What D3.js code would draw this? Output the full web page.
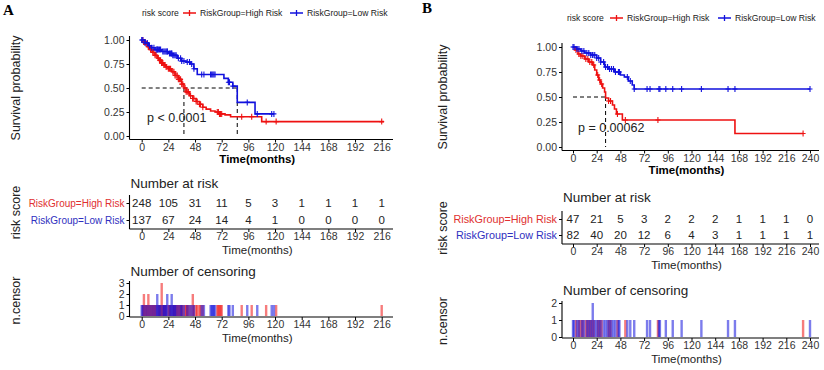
<!DOCTYPE html>
<html>
<head>
<meta charset="utf-8">
<script src="https://cdn.jsdelivr.net/npm/d3@7"></script>
<style>
  body { margin: 0; background: #fff; }
  svg, text { font-family: Arial, "Liberation Sans", Helvetica, sans-serif; }
</style>
</head>
<body>
<svg id="chart" width="824" height="370"></svg>
<script>
// ---- data ----
const groups = ['RiskGroup=High Risk', 'RiskGroup=Low Risk'];
const survTicks = [0, 0.25, 0.5, 0.75, 1];

// panel A
const timeTicksA = [0, 24, 48, 72, 96, 120, 144, 168, 192, 216];
const highStepsA = [[0, 1], [2, 0.98], [4, 0.96], [6, 0.93], [8, 0.9], [10, 0.87], [12, 0.84], [14, 0.81],
  [16, 0.79], [18, 0.76], [20, 0.74], [22, 0.72], [24, 0.7], [27, 0.67], [30, 0.63], [33, 0.59], [36, 0.54],
  [38, 0.5], [40, 0.46], [43, 0.42], [46, 0.39], [49, 0.36], [52, 0.33], [55, 0.3], [58, 0.28], [62, 0.26],
  [66, 0.25], [70, 0.23], [75, 0.22], [80, 0.2], [108, 0.15]];
const lowStepsA = [[0, 1], [3, 0.97], [6, 0.94], [9, 0.92], [12, 0.9], [18, 0.88], [24, 0.86], [28, 0.84],
  [32, 0.81], [36, 0.78], [40, 0.77], [44, 0.75], [47, 0.7], [50, 0.64], [74, 0.6], [78, 0.56], [82, 0.52],
  [86, 0.35], [102, 0.23]];
const highEndA = 218;
const lowEndA = 119;
const highCensorA = [1, 2, 2, 3, 4, 5, 6, 6, 7, 8, 9, 10, 11, 12, 13, 15, 16, 17, 18, 18, 18, 19, 20, 21, 22, 24,
  25, 26, 28, 29, 30, 31, 32, 33, 34, 35, 36, 37, 39, 40, 41, 42, 44, 46, 46, 47, 49, 50, 52, 53, 55, 68, 69,
  70, 71, 72, 90, 99, 112, 121, 216];
const lowCensorA = [0, 1, 3, 5, 7, 9, 11, 13, 14, 14, 15, 16, 17, 19, 20, 21, 22, 23, 23, 25, 26, 27, 27, 28, 29,
  30, 31, 33, 35, 36, 38, 41, 43, 45, 47, 54, 56, 62, 63, 64, 65, 66, 78, 79, 82, 95, 104, 117, 119];
const highRiskA = [248, 105, 31, 11, 5, 3, 1, 1, 1, 1];
const lowRiskA = [137, 67, 24, 14, 4, 1, 0, 0, 0, 0];
const mediansA = [38, 86];
const pTextA = 'p < 0.0001';

// panel B
const timeTicksB = [0, 24, 48, 72, 96, 120, 144, 168, 192, 216, 240];
const highStepsB = [[0, 1], [2, 0.97], [5, 0.93], [8, 0.91], [12, 0.88], [16, 0.85], [20, 0.82], [22, 0.77],
  [24, 0.72], [26, 0.67], [28, 0.63], [30, 0.59], [32, 0.55], [33, 0.49], [36, 0.46], [40, 0.42], [42, 0.38],
  [44, 0.33], [50, 0.27], [164, 0.135]];
const lowStepsB = [[0, 1], [4, 0.98], [8, 0.96], [12, 0.94], [18, 0.92], [24, 0.89], [28, 0.85], [32, 0.8],
  [36, 0.78], [42, 0.75], [48, 0.72], [52, 0.7], [56, 0.66], [60, 0.62], [62, 0.58]];
const highEndB = 233;
const lowEndB = 240;
const highCensorB = [3, 6, 8, 10, 13, 15, 17, 19, 21, 25, 27, 29, 36, 38, 45, 53, 86, 233];
const lowCensorB = [0, 1, 4, 6, 9, 11, 14, 16, 18, 20, 20, 22, 24, 26, 28, 31, 33, 35, 37, 39, 41, 43, 46, 47,
  55, 58, 62, 75, 78, 87, 88, 94, 101, 110, 130, 157, 164, 240];
const highRiskB = [47, 21, 5, 3, 2, 2, 2, 1, 1, 1, 0];
const lowRiskB = [82, 40, 20, 12, 6, 4, 3, 1, 1, 1, 1];
const mediansB = [33];
const pTextB = 'p = 0.00062';

const colors = ['#ee1111', '#1111dd'];
const labelColors = ['#e03030', '#3030c0'];
const svg = d3.select('#chart');

function stepAt(steps, t) {
  let s = steps[0][1];
  steps.forEach(d => { if (d[0] <= t) s = d[1]; });
  return s;
}

function styleAxis(g) {
  g.attr('font-family', null);
  g.selectAll('.domain').remove();
  g.selectAll('.tick line').attr('stroke', '#000');
  g.selectAll('.tick text').attr('fill', '#333').style('font-size', '10.5px');
}

function hline(g, x1, x2, y) {
  g.append('line').attr('x1', x1).attr('x2', x2).attr('y1', y).attr('y2', y).attr('stroke', '#000').attr('stroke-width', 1.1);
}
function vline(g, x, y1, y2) {
  g.append('line').attr('x1', x).attr('x2', x).attr('y1', y1).attr('y2', y2).attr('stroke', '#000').attr('stroke-width', 1.1);
}

function drawPanel(p) {
  const g = svg.append('g');
  const x = d3.scaleLinear().domain([0, p.xMax]).range([p.x0, p.x1]);

  // panel letter
  g.append('text').attr('x', p.letterX).attr('y', p.letterY).text(p.letter)
    .style('font-family', '"Liberation Serif", "DejaVu Serif", serif').style('font-weight', 'bold').style('font-size', '15px');

  // legend
  const lg = g.append('g').attr('transform', `translate(${p.legendX},${p.legendY})`);
  lg.append('text').attr('x', 0).attr('y', 3).text('risk score').style('font-size', '8.6px').attr('fill', '#222');
  let lx = p.legendX2;
  groups.forEach((name, i) => {
    const k = lg.append('g').attr('transform', `translate(${lx},0)`);
    k.append('line').attr('x1', 0).attr('x2', 13).attr('stroke', colors[i]).attr('stroke-width', 1.5);
    k.append('path').attr('d', 'M6.5,-3V3').attr('stroke', colors[i]).attr('stroke-width', 1.3);
    k.append('text').attr('x', 17).attr('y', 3).text(name).style('font-size', '8.6px').attr('fill', '#222');
    lx += p.legendStep;
  });

  // ---- survival curves ----
  const y = d3.scaleLinear().domain([0, 1]).range([p.yS0, p.yS1]);
  g.append('g').attr('transform', `translate(${p.axisX},0)`)
    .call(d3.axisLeft(y).tickValues(survTicks).tickFormat(d3.format('.2f')).tickSize(3).tickPadding(2))
    .call(styleAxis);
  g.append('g').attr('transform', `translate(0,${p.yAxisS})`)
    .call(d3.axisBottom(x).tickValues(p.ticks).tickSize(3).tickPadding(1))
    .call(styleAxis);
  vline(g, p.axisX, p.yS1 - 4, p.yAxisS);
  hline(g, p.axisX, p.axisRight, p.yAxisS);
  g.append('text').attr('x', (p.axisX + p.axisRight) / 2 - 4).attr('y', p.yAxisS + 23).attr('text-anchor', 'middle')
    .text('Time(months)').style('font-weight', 'bold').style('font-size', '11.5px');
  g.append('text').attr('transform', `translate(${p.titleX},${(p.yS0 + p.yS1) / 2}) rotate(-90)`)
    .attr('text-anchor', 'middle').text('Survival probability').style('font-size', '12.5px').attr('fill', '#222');

  // medians
  const dash = '4,3';
  g.append('line').attr('x1', x(0)).attr('x2', x(d3.max(p.medians))).attr('y1', y(0.5)).attr('y2', y(0.5))
    .attr('stroke', '#000').attr('stroke-dasharray', dash);
  p.medians.forEach(m => {
    g.append('line').attr('x1', x(m)).attr('x2', x(m)).attr('y1', y(0.5)).attr('y2', y(0))
      .attr('stroke', '#000').attr('stroke-dasharray', dash);
  });

  const line = d3.line().x(d => x(d[0])).y(d => y(d[1])).curve(d3.curveStepAfter);
  p.curves.forEach((c, i) => {
    const pts = c.steps.concat([[c.end, c.steps[c.steps.length - 1][1]]]);
    g.append('path').datum(pts).attr('d', line).attr('fill', 'none').attr('stroke', colors[i]).attr('stroke-width', 1.6);
    g.selectAll(null).data(c.censor.filter(t => t <= c.end)).enter().append('path')
      .attr('transform', t => `translate(${x(t)},${y(stepAt(c.steps, t))})`)
      .attr('d', 'M-2.5,0H2.5M0,-3V3').attr('stroke', colors[i]).attr('stroke-width', 1.1);
  });

  g.append('text').attr('x', p.pX).attr('y', p.pY).text(p.pText).style('font-size', '12.5px').attr('fill', '#222');

  // ---- number at risk ----
  g.append('text').attr('x', p.axisX + 1).attr('y', p.tTitleY).text('Number at risk').style('font-size', '13.5px').attr('fill', '#222');
  const yr = d3.scalePoint().domain(groups).range([p.rowY0, p.rowY1]);
  g.append('g').attr('transform', `translate(${p.axisX},0)`)
    .call(d3.axisLeft(yr).tickSize(3).tickPadding(2))
    .call(styleAxis)
    .call(a => a.selectAll('.tick text').style('font-size', p.labelSize).attr('fill', (d, i) => labelColors[i]));
  g.append('g').attr('transform', `translate(0,${p.yAxisT})`)
    .call(d3.axisBottom(x).tickValues(p.ticks).tickSize(3).tickPadding(1))
    .call(styleAxis);
  vline(g, p.axisX, p.rowY0 - 8, p.yAxisT);
  hline(g, p.axisX, p.axisRight, p.yAxisT);
  [p.highRisk, p.lowRisk].forEach((row, i) => {
    g.selectAll(null).data(row).enter().append('text')
      .attr('x', (d, j) => x(p.ticks[j])).attr('y', yr(groups[i]) + 4)
      .attr('text-anchor', 'middle').text(d => d).style('font-size', '11.5px').attr('fill', '#222');
  });
  g.append('text').attr('x', (p.axisX + p.axisRight) / 2 - 4).attr('y', p.yAxisT + 25).attr('text-anchor', 'middle')
    .text('Time(months)').style('font-size', '11.5px').attr('fill', '#222');
  g.append('text').attr('transform', `translate(${p.titleX},${(p.rowY0 + p.rowY1) / 2 + 1}) rotate(-90)`)
    .attr('text-anchor', 'middle').text('risk score').style('font-size', '12.5px').attr('fill', '#222');

  // ---- number of censoring ----
  g.append('text').attr('x', p.axisX + 1).attr('y', p.cTitleY).text('Number of censoring').style('font-size', '13.5px').attr('fill', '#222');
  const yc = d3.scaleLinear().domain([0, p.cMax]).range([p.yC0, p.yC1]);
  g.append('g').attr('transform', `translate(${p.axisX},0)`)
    .call(d3.axisLeft(yc).ticks(p.cMax).tickFormat(d3.format('d')).tickSize(3).tickPadding(2))
    .call(styleAxis);
  g.append('g').attr('transform', `translate(0,${p.yAxisC})`)
    .call(d3.axisBottom(x).tickValues(p.ticks).tickSize(3).tickPadding(1))
    .call(styleAxis);
  p.curves.forEach((c, i) => {
    const counts = Array.from(d3.rollup(c.censor, v => v.length, d => d));
    g.selectAll(null).data(counts).enter().append('rect')
      .attr('x', d => x(d[0]) - 1.2).attr('width', 2.4)
      .attr('y', d => yc(d[1])).attr('height', d => yc(0) - yc(d[1]))
      .attr('fill', colors[i]).attr('fill-opacity', 0.55);
  });
  vline(g, p.axisX, p.yC1 - 2, p.yAxisC);
  hline(g, p.axisX, p.axisRight, p.yAxisC);
  g.append('text').attr('x', (p.axisX + p.axisRight) / 2 - 4).attr('y', p.yAxisC + 25).attr('text-anchor', 'middle')
    .text('Time(months)').style('font-size', '11.5px').attr('fill', '#222');
  g.append('text').attr('transform', `translate(${p.titleX},${(p.yC0 + p.yC1) / 2 + 1}) rotate(-90)`)
    .attr('text-anchor', 'middle').text('n.censor').style('font-size', '12.5px').attr('fill', '#222');
}

drawPanel({
  letter: 'A', letterX: 3, letterY: 15,
  legendX: 142, legendY: 13, legendX2: 41, legendStep: 107,
  xMax: 216, x0: 141.7, x1: 381.7, ticks: timeTicksA,
  axisX: 129.5, axisRight: 393, titleX: 20,
  yS0: 136, yS1: 40, yAxisS: 139.5,
  medians: mediansA, pText: pTextA, pX: 147, pY: 122,
  curves: [
    { steps: highStepsA, end: highEndA, censor: highCensorA },
    { steps: lowStepsA, end: lowEndA, censor: lowCensorA }
  ],
  tTitleY: 188, rowY0: 203, rowY1: 220, yAxisT: 229, labelSize: '10px',
  highRisk: highRiskA, lowRisk: lowRiskA,
  cTitleY: 276, cMax: 3, yC0: 316, yC1: 283, yAxisC: 317
});

drawPanel({
  letter: 'B', letterX: 422, letterY: 13,
  legendX: 567, legendY: 18, legendX2: 43, legendStep: 108,
  xMax: 240, x0: 573, x1: 810, ticks: timeTicksB,
  axisX: 562, axisRight: 819, titleX: 447,
  yS0: 147, yS1: 47, yAxisS: 150.5,
  medians: mediansB, pText: pTextB, pX: 578, pY: 132,
  curves: [
    { steps: highStepsB, end: highEndB, censor: highCensorB },
    { steps: lowStepsB, end: lowEndB, censor: lowCensorB }
  ],
  tTitleY: 202, rowY0: 219, rowY1: 235, yAxisT: 244, labelSize: '10.8px',
  highRisk: highRiskB, lowRisk: lowRiskB,
  cTitleY: 295, cMax: 2, yC0: 337, yC1: 303, yAxisC: 338
});
</script>
</body>
</html>
